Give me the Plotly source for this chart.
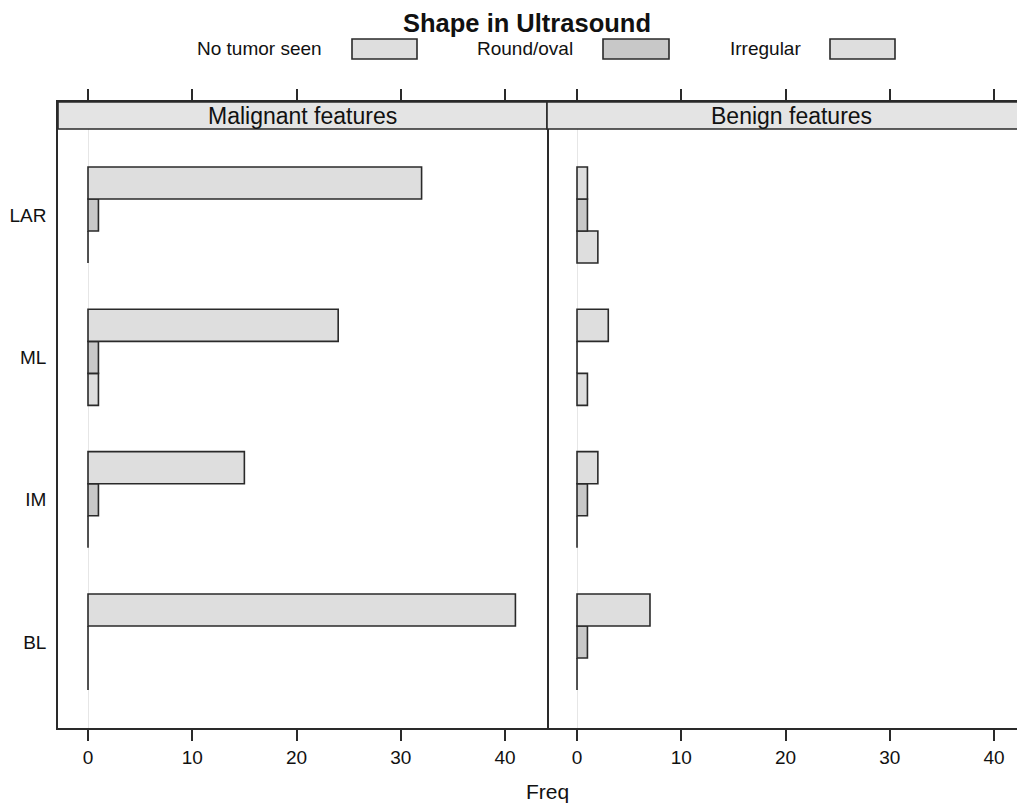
import plotly.graph_objects as go

# ---- data ----
sites = ["LAR", "ML", "IM", "BL"]
shapes_lvls = ["No tumor seen", "Round/oval", "Irregular"]
panels = ["Malignant features", "Benign features"]
malignant = {
    "No tumor seen": [0, 1, 0, 0],
    "Round/oval":    [1, 1, 1, 0],
    "Irregular":     [32, 24, 15, 41],
}
benign = {
    "No tumor seen": [2, 1, 0, 0],
    "Round/oval":    [1, 0, 1, 1],
    "Irregular":     [1, 3, 2, 7],
}
x_ticks = [0, 10, 20, 30, 40]

# ---- style ----
OFF = 8                      # page body margin of the html page
W, H = 1025 - OFF, 810 - OFF
FONT = "Liberation Sans, Arial, Helvetica, sans-serif"
fills = {"No tumor seen": "#dedede", "Round/oval": "#c8c8c8", "Irregular": "#dedede"}
EDGE = "#2a2a2a"

def px(x):
    return (x - OFF) / W

def py(y):
    return 1 - (y - OFF) / H

fig = go.Figure()
for data, xa, ya in [(malignant, "x", "y"), (benign, "x2", "y2")]:
    for lvl in shapes_lvls:
        fig.add_trace(go.Bar(
            y=sites, x=data[lvl], orientation="h", name=lvl,
            marker=dict(color=fills[lvl], line=dict(color=EDGE, width=1.6)),
            xaxis=xa, yaxis=ya, showlegend=False, hoverinfo="x+y+name",
        ))

xl0, xmid, xr = 58, 547, 1025
ytop, ystrip, ybot = 102, 129, 728
common_x = dict(
    tickmode="array", tickvals=x_ticks, ticktext=[str(t) for t in x_ticks],
    ticks="outside", ticklen=11, tickwidth=1.5, tickcolor=EDGE,
    showline=True, linecolor=EDGE, linewidth=1.6, mirror="ticks",
    showgrid=False, zeroline=True, zerolinecolor="#e6e6e6", zerolinewidth=1,
    tickfont=dict(family=FONT, size=19, color="#111"),
)
common_y = dict(
    type="category", categoryorder="array", categoryarray=sites[::-1],
    range=[-0.604, 3.794], showgrid=False, zeroline=False,
    linecolor=EDGE, linewidth=1.6,
    domain=[py(ybot), py(ytop)],
)
fig.update_layout(
    width=W, height=H,
    margin=dict(l=0, r=0, t=0, b=0),
    paper_bgcolor="white", plot_bgcolor="white",
    barmode="group", bargap=0.325, bargroupgap=0,
    font=dict(family=FONT, color="#111"),
    xaxis=dict(domain=[px(xl0), px(xmid)], range=[-2.878, 44.03], anchor="y", **common_x),
    xaxis2=dict(domain=[px(xmid), 1.0], range=[-2.878, 42.97], anchor="y2", **common_x),
    yaxis=dict(anchor="x", showline=True, mirror=True, ticks="outside", ticklen=6,
               tickcolor="rgba(0,0,0,0)", showticklabels=True,
               tickfont=dict(family=FONT, size=19, color="#111"), **common_y),
    yaxis2=dict(anchor="x2", showline=False, ticks="", showticklabels=False, **common_y),
    title=dict(text="<b>Shape in Ultrasound</b>", x=px(527), xanchor="center",
               y=py(23), yanchor="middle",
               font=dict(family=FONT, size=25.5, color="#111")),
    showlegend=False,
)

shapes = []
annots = []
# strips
for (a, b), label in zip([(xl0, xmid), (xmid, xr + 20)], panels):
    shapes.append(dict(type="rect", xref="paper", yref="paper",
                       x0=px(a), x1=px(b), y0=py(ystrip), y1=py(ytop),
                       fillcolor="#e4e4e4", line=dict(color=EDGE, width=1.6), layer="above"))
    cx = (a + min(b, xr + 11)) / 2
    annots.append(dict(text=label, xref="paper", yref="paper", x=px(cx), y=py((ystrip + ytop) / 2),
                       xanchor="center", yanchor="middle", showarrow=False,
                       font=dict(family=FONT, size=23, color="#111")))

# manual legend (text then key box)
legend_pos = [(324, 352, 417), (575, 603, 669), (803, 830, 895)]
for lvl, (tx, r0, r1) in zip(shapes_lvls, legend_pos):
    annots.append(dict(text=lvl, xref="paper", yref="paper", x=px(tx), y=py(49),
                       xanchor="right", yanchor="middle", showarrow=False,
                       font=dict(family=FONT, size=19, color="#111")))
    shapes.append(dict(type="rect", xref="paper", yref="paper",
                       x0=px(r0), x1=px(r1), y0=py(59), y1=py(39),
                       fillcolor=fills[lvl], line=dict(color=EDGE, width=1.6)))

annots.append(dict(text="Freq", xref="paper", yref="paper", x=px(547), y=py(791),
                   xanchor="center", yanchor="middle", showarrow=False,
                   font=dict(family=FONT, size=21, color="#111")))

fig.update_layout(shapes=shapes, annotations=annots)
fig.write_html("out.html")
